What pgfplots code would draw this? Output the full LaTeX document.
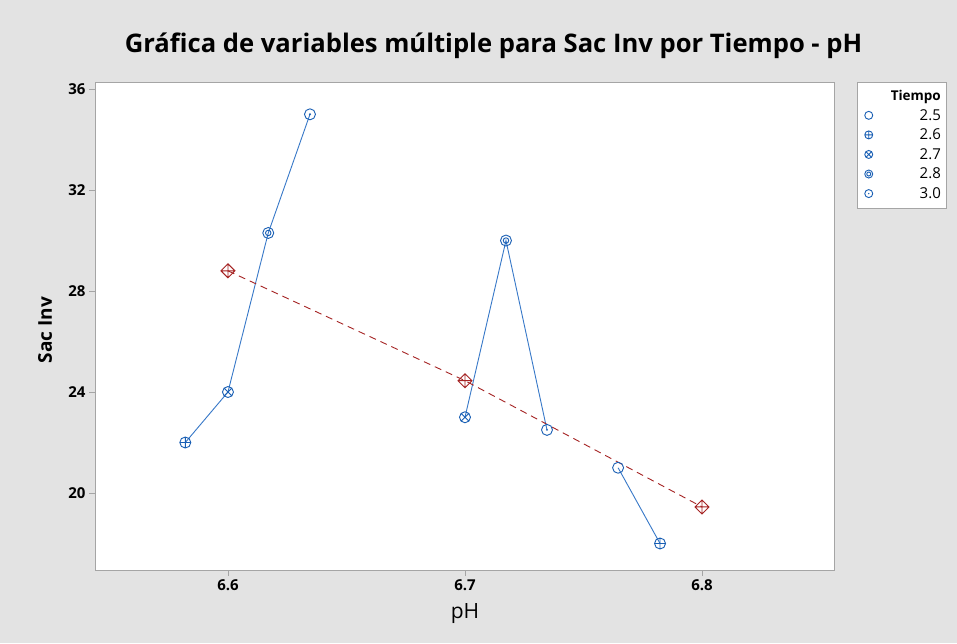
\documentclass[border=0pt]{standalone}
\usepackage{fontspec}
\setmainfont{Open Sans}
\usepackage{pgfplots}
\pgfplotsset{compat=1.18}

\definecolor{bg}{RGB}{227,227,227}
\definecolor{framegray}{RGB}{165,165,165}
\definecolor{mblue}{RGB}{25,95,180}
\definecolor{lblue}{RGB}{55,120,200}
\definecolor{mred}{RGB}{165,35,35}

% Marks for the levels of Tiempo
\pgfdeclareplotmark{t25}{%
  \pgfpathcircle{\pgfpointorigin}{\pgfplotmarksize}\pgfusepathqstroke}
\pgfdeclareplotmark{t26}{%
  \pgfpathcircle{\pgfpointorigin}{\pgfplotmarksize}%
  \pgfpathmoveto{\pgfpoint{-\pgfplotmarksize}{0pt}}\pgfpathlineto{\pgfpoint{\pgfplotmarksize}{0pt}}%
  \pgfpathmoveto{\pgfpoint{0pt}{-\pgfplotmarksize}}\pgfpathlineto{\pgfpoint{0pt}{\pgfplotmarksize}}%
  \pgfusepathqstroke}
\pgfdeclareplotmark{t27}{%
  \pgfpathcircle{\pgfpointorigin}{\pgfplotmarksize}%
  \pgfpathmoveto{\pgfpoint{-0.707\pgfplotmarksize}{-0.707\pgfplotmarksize}}\pgfpathlineto{\pgfpoint{0.707\pgfplotmarksize}{0.707\pgfplotmarksize}}%
  \pgfpathmoveto{\pgfpoint{-0.707\pgfplotmarksize}{0.707\pgfplotmarksize}}\pgfpathlineto{\pgfpoint{0.707\pgfplotmarksize}{-0.707\pgfplotmarksize}}%
  \pgfusepathqstroke}
\pgfdeclareplotmark{t28}{%
  \pgfpathcircle{\pgfpointorigin}{\pgfplotmarksize}%
  \pgfpathcircle{\pgfpointorigin}{0.5\pgfplotmarksize}\pgfusepathqstroke}
\pgfdeclareplotmark{t30}{%
  \pgfpathcircle{\pgfpointorigin}{\pgfplotmarksize}\pgfusepathqstroke
  \pgfpathcircle{\pgfpointorigin}{0.2\pgfplotmarksize}\pgfusepathqfill}
% Mean mark: diamond with a cross
\pgfdeclareplotmark{meanmk}{%
  \pgfpathmoveto{\pgfpoint{-\pgfplotmarksize}{0pt}}%
  \pgfpathlineto{\pgfpoint{0pt}{\pgfplotmarksize}}%
  \pgfpathlineto{\pgfpoint{\pgfplotmarksize}{0pt}}%
  \pgfpathlineto{\pgfpoint{0pt}{-\pgfplotmarksize}}\pgfpathclose
  \pgfpathmoveto{\pgfpoint{-\pgfplotmarksize}{0pt}}\pgfpathlineto{\pgfpoint{\pgfplotmarksize}{0pt}}%
  \pgfpathmoveto{\pgfpoint{0pt}{-\pgfplotmarksize}}\pgfpathlineto{\pgfpoint{0pt}{\pgfplotmarksize}}%
  \pgfusepathqstroke}

\begin{document}
\begin{tikzpicture}[x=1pt,y=1pt]
\fill[bg] (0,0) rectangle (957,643);
\begin{axis}[
  at={(95pt,73pt)}, anchor=south west,
  scale only axis, width=739pt, height=488pt,
  xmin=6.5439, xmax=6.8557, ymin=16.95, ymax=36.28,
  xtick={6.6,6.7,6.8}, ytick={20,24,28,32,36},
  xticklabel style={/pgf/number format/.cd, fixed, fixed zerofill, precision=1},
  /pgf/number format/assume math mode=true,
  tick label style={font=\fontsize{15}{18}\selectfont\bfseries, black},
  axis line style={framegray, line width=0.8pt},
  tick style={framegray, line width=0.8pt},
  tick align=outside, major tick length=6pt,
  xtick pos=bottom, ytick pos=left,
  axis background/.style={fill=white},
  legend style={at={(axis description cs:1,1)}, anchor=north west, xshift=23pt,
    draw=framegray, fill=white, font=\fontsize{15}{17}\selectfont,
    row sep=3.2pt, column sep=16pt, inner xsep=3pt, inner ysep=6pt},
  legend cell align=right,
  legend image post style={mark size=4pt},
]
% Connecting lines inside each pH group
\addplot[lblue, line width=0.9pt, forget plot] coordinates
  {(6.582,22) (6.600,24) (6.617,30.3) (6.6346,35)};
\addplot[lblue, line width=0.9pt, forget plot] coordinates
  {(6.700,23) (6.7173,30) (6.7346,22.5)};
\addplot[lblue, line width=0.9pt, forget plot] coordinates
  {(6.7646,21) (6.7823,18)};
% Group means
\addplot[mred, line width=0.9pt, dash pattern=on 7pt off 5pt, mark=meanmk,
  mark size=7pt, mark options={solid, line width=0.9pt}, forget plot] coordinates
  {(6.6,28.8) (6.7,24.45) (6.8,19.45)};
% Legend title
\addlegendimage{empty legend}
\addlegendentry{\fontsize{13.5}{15}\selectfont\bfseries Tiempo}
% Points by Tiempo level
\addplot[only marks, mark=t25, mark size=5.5pt, mblue, line width=0.9pt] coordinates
  {(6.7646,21)};
\addlegendentry{2.5}
\addplot[only marks, mark=t26, mark size=5.5pt, mblue, line width=0.9pt] coordinates
  {(6.582,22) (6.7823,18)};
\addlegendentry{2.6}
\addplot[only marks, mark=t27, mark size=5.5pt, mblue, line width=0.9pt] coordinates
  {(6.600,24) (6.700,23)};
\addlegendentry{2.7}
\addplot[only marks, mark=t28, mark size=5.5pt, mblue, line width=0.9pt] coordinates
  {(6.617,30.3) (6.7173,30)};
\addlegendentry{2.8}
\addplot[only marks, mark=t30, mark size=5.5pt, mblue, line width=0.9pt] coordinates
  {(6.6346,35) (6.7346,22.5)};
\addlegendentry{3.0}
\end{axis}
\node[font=\fontsize{25.6}{30}\selectfont\bfseries] at (493.5,597)
  {Gráfica de variables múltiple para Sac Inv por Tiempo - pH};
\node[font=\fontsize{19}{22}\selectfont\bfseries, rotate=90] at (45,313) {Sac Inv};
\node[font=\fontsize{21}{24}\selectfont] at (465,29) {pH};
\end{tikzpicture}
\end{document}
